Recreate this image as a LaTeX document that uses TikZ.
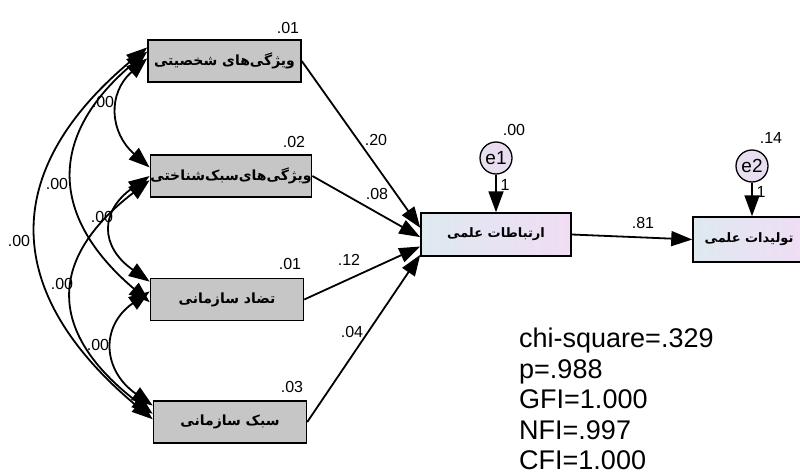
\documentclass[tikz,border=0pt]{standalone}
\usepackage{fontspec}
\setmainfont{Liberation Sans}
\newfontfamily\farsi[Script=Arabic]{DejaVu Sans}
\TeXXeTstate=1
\usepackage{tikz}
\usetikzlibrary{arrows.meta,positioning,shadings}
\definecolor{boxgray}{RGB}{198,198,198}
\definecolor{endoleft}{RGB}{222,233,240}
\definecolor{endoright}{RGB}{240,221,244}
\definecolor{errfill}{RGB}{232,222,240}

\begin{document}
\begin{tikzpicture}[x=1pt,y=-1pt,
  exo/.style={draw, line width=1.5pt, fill=boxgray, minimum width=153pt,
    minimum height=42pt, inner sep=0pt, font=\farsi\bfseries\fontsize{14}{16}\selectfont},
  endo/.style={draw, line width=1.5pt, left color=endoleft, right color=endoright,
    minimum width=150pt, minimum height=43pt, inner sep=0pt,
    font=\farsi\bfseries\fontsize{13}{15}\selectfont},
  err/.style={draw, circle, line width=1.3pt, fill=errfill, minimum size=32pt,
    inner sep=0pt, font=\fontsize{19}{21}\selectfont},
  num/.style={font=\fontsize{16}{18}\selectfont, inner sep=0pt},
  path/.style={line width=1.8pt, -{Triangle[length=21pt,width=15pt]}},
  cov/.style={line width=1.8pt, {Triangle[length=21pt,width=15pt]}-{Triangle[length=21pt,width=15pt]}}]
\useasboundingbox[fill=white] (0,0) rectangle (800,476);

% exogenous variables
\node[exo] (pers) at (224.5,61) {\beginR ویژگی‌های شخصیتی\endR};
\node[exo] (cogn) at (231,176) {\beginR ویژگی‌های‌سبک‌شناختی\endR};
\node[exo] (conf) at (227,299.5) {\beginR تضاد سازمانی\endR};
\node[exo] (orgst) at (230,422) {\beginR سبک سازمانی\endR};

% endogenous variables
\node[endo] (comm) at (496,234.5) {\beginR ارتباطات علمی\endR};
\node[endo, minimum width=112pt, minimum height=45pt] (prod) at (749,239.5) {\beginR تولیدات علمی\endR};
\node[err] (e1) at (496,158) {e1};
\node[err] (e2) at (752,166) {e2};

% paths
\draw[path] (pers.east) -- (comm.175);
\draw[path] (cogn.east) -- (comm.182);
\draw[path] (conf.east) -- (comm.189);
\draw[path] (orgst.east) -- (comm.195);
\draw[path] (comm.east) -- (prod.west);
\draw[path] (e1) -- (comm);
\draw[path] (e2) -- (e2 |- prod.north);

% covariances
\draw[cov] (pers.178) .. controls +(-40,35) and +(-40,-35) .. (cogn.174);
\draw[cov] (pers.173) .. controls +(-100,85) and +(-100,-85) .. (conf.182);
\draw[cov] (pers.170) .. controls +(-150,125) and +(-150,-125) .. (orgst.178.5);
\draw[cov] (cogn.180) .. controls +(-50,35) and +(-50,-35) .. (conf.167.6);
\draw[cov] (cogn.183) .. controls +(-104,80) and +(-104,-80) .. (orgst.174);
\draw[cov] (conf.174.3) .. controls +(-50,35) and +(-50,-35) .. (orgst.168);

% estimates
\node[num] at (288,28) {.01};
\node[num] at (294,142) {.02};
\node[num] at (290,264) {.01};
\node[num] at (292,387) {.03};
\node[num] at (514,130) {.00};
\node[num] at (771,138) {.14};
\node[num] at (376,140) {.20};
\node[num] at (377,194) {.08};
\node[num] at (349,260) {.12};
\node[num] at (352,332) {.04};
\node[num] at (643,223) {.81};
\node[num] at (505,185) {1};
\node[num] at (761,192) {1};
\node[num] at (103,102) {.00};
\node[num] at (57,184) {.00};
\node[num] at (102,217) {.00};
\node[num] at (19,241) {.00};
\node[num] at (62,284) {.00};
\node[num] at (98,345) {.00};

% fit indices
\node[anchor=north west, align=left, inner sep=0pt,
  font=\fontsize{27}{30.5}\selectfont] (fit) at (519,328)
  {chi-square=.329\\p=.988\\GFI=1.000\\NFI=.997\\CFI=1.000};
\end{tikzpicture}
\end{document}
